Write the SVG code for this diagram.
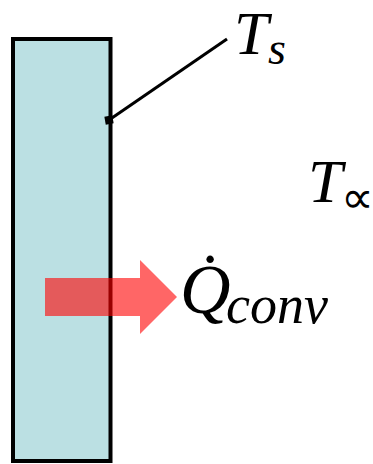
<svg xmlns="http://www.w3.org/2000/svg" width="373" height="464" viewBox="0 0 373 464">
<style>
.m{font-family:"Liberation Serif","DejaVu Serif",serif;font-style:italic;fill:#000}
</style>
<rect width="373" height="464" fill="#fff"/>
<g id="wall">
<rect x="13" y="39" width="97.5" height="422" fill="#BBE0E3" stroke="#000" stroke-width="4"/>
</g>
<g id="connectors">
<line x1="109" y1="120" x2="227" y2="39" stroke="#000" stroke-width="3"/>
<rect x="105" y="116" width="8" height="8" fill="#000" transform="rotate(-10 109 120)"/>
</g>
<g id="arrow">
<polygon points="45,278 140,278 140,260 177,297 140,334 140,316 45,316" fill="#FF0000" fill-opacity="0.6"/>
</g>
<g id="label-ts">
<text class="m" x="234" y="54" font-size="62">T</text>
<text class="m" x="268" y="64" font-size="46">s</text>
</g>
<g id="label-tinf">
<text class="m" x="308" y="202" font-size="62">T</text>
<text x="341" y="213" font-size="46" font-family="DejaVu Sans,sans-serif">∝</text>
</g>
<g id="label-q">
<text class="m" x="180" y="313" font-size="70">Q̇</text>
<text class="m" x="226" y="323" font-size="54">conv</text>
</g>
</svg>
